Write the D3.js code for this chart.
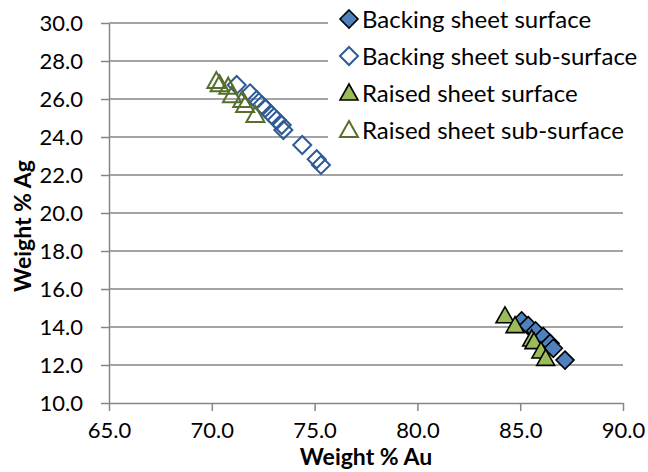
<!DOCTYPE html>
<html>
<head>
<meta charset="utf-8">
<script src="https://cdn.jsdelivr.net/npm/d3@7"></script>
<style>
  body { margin: 0; background: #fff; }
  text { font-family: Lato, "Open Sans", sans-serif; fill: #000; }
</style>
</head>
<body>
<div id="chart"></div>
<script>
/* DATA */
const xTicks = [65, 70, 75, 80, 85, 90];
const yTicks = [10, 12, 14, 16, 18, 20, 22, 24, 26, 28, 30];

// [Au, Ag] weight %
const backingSurface = [
  [85.07, 14.32], [85.39, 14.07], [85.75, 13.79], [86.12, 13.49],
  [86.45, 13.14], [86.61, 12.88], [87.18, 12.26]
];
const backingSubSurface = [
  [71.21, 26.74], [71.86, 26.30], [72.18, 25.95], [72.43, 25.68],
  [72.59, 25.51], [72.91, 25.16], [73.16, 24.89], [73.40, 24.63],
  [73.48, 24.37], [74.40, 23.58], [75.10, 22.83], [75.31, 22.53]
];
const raisedSurface = [
  [84.26, 14.59], [84.75, 14.07], [85.56, 13.37], [85.67, 13.23],
  [86.01, 12.74], [86.24, 12.35]
];
const raisedSubSurface = [
  [70.22, 26.95], [70.38, 26.78], [70.80, 26.65], [70.98, 26.20],
  [71.48, 25.95], [71.62, 25.68], [72.12, 25.16]
];

const seriesNames = [
  "Backing sheet surface",
  "Backing sheet sub-surface",
  "Raised sheet surface",
  "Raised sheet sub-surface"
];

/* CONSTANTS */
const width = 648,
  height = 472,
  margin = { top: 23, bottom: 69, left: 109, right: 25 };

const gridColor = "#868686";

const series = [
  { name: seriesNames[0], data: backingSurface, shape: "diamond", fill: "#4F81BD", stroke: "#000" },
  { name: seriesNames[1], data: backingSubSurface, shape: "diamond", fill: "none", stroke: "#2E5B97" },
  { name: seriesNames[2], data: raisedSurface, shape: "triangle", fill: "#9BBB59", stroke: "#000" },
  { name: seriesNames[3], data: raisedSubSurface, shape: "triangle", fill: "none", stroke: "#566F2C" }
];

function markerPath(shape) {
  if (shape === "diamond") return "M0,-9L9,0L0,9L-9,0Z";
  return "M0,-9L9,7L-9,7Z";
}

/* SCALES */
const xScale = d3.scaleLinear()
  .domain([65, 90])
  .range([margin.left, width - margin.right]);

const yScale = d3.scaleLinear()
  .domain([10, 30])
  .range([height - margin.bottom, margin.top]);

const svg = d3.select("#chart")
  .append("svg")
  .attr("width", width)
  .attr("height", height);

// gridlines
svg.append("g")
  .selectAll("line")
  .data(yTicks.filter(d => d > 10))
  .join("line")
  .attr("x1", margin.left)
  .attr("x2", width - margin.right)
  .attr("y1", d => yScale(d))
  .attr("y2", d => yScale(d))
  .attr("stroke", gridColor)
  .attr("stroke-width", 1.5);

// axes
const xAxis = d3.axisBottom(xScale)
  .tickValues(xTicks)
  .tickSize(8)
  .tickSizeOuter(0)
  .tickFormat(d3.format(".1f"));

const yAxis = d3.axisLeft(yScale)
  .tickValues(yTicks)
  .tickSize(8)
  .tickSizeOuter(0)
  .tickFormat(d3.format(".1f"));

const gx = svg.append("g")
  .attr("transform", `translate(0, ${height - margin.bottom})`)
  .call(xAxis);

const gy = svg.append("g")
  .attr("transform", `translate(${margin.left}, 0)`)
  .call(yAxis);

[gx, gy].forEach(g => {
  g.select(".domain").attr("stroke", gridColor).attr("stroke-width", 1.5);
  g.selectAll(".tick line").attr("stroke", gridColor).attr("stroke-width", 1.5);
  g.selectAll(".tick text")
    .attr("fill", "#000")
    .style("font-family", "Lato, sans-serif")
    .style("font-size", "22px");
});
gx.selectAll(".tick text").attr("y", 19);
gy.selectAll(".tick text").attr("x", -26).attr("dy", "0.36em");

// axis titles
svg.append("text")
  .attr("x", (margin.left + width - margin.right) / 2)
  .attr("y", 465)
  .attr("text-anchor", "middle")
  .style("font-size", "23px")
  .style("font-weight", "bold")
  .text("Weight % Au");

svg.append("text")
  .attr("transform", `translate(31, 226) rotate(-90)`)
  .attr("text-anchor", "middle")
  .style("font-size", "23px")
  .style("font-weight", "bold")
  .text("Weight % Ag");

// points
series.forEach(s => {
  svg.append("g")
    .selectAll("path")
    .data(s.data)
    .join("path")
    .attr("d", markerPath(s.shape))
    .attr("transform", d => `translate(${xScale(d[0])}, ${yScale(d[1])})`)
    .attr("fill", s.fill)
    .attr("stroke", s.stroke)
    .attr("stroke-width", s.fill === "none" ? 2 : 1.6)
    .attr("stroke-linejoin", "miter");
});

// legend
const legend = svg.append("g");
legend.append("rect")
  .attr("x", 328)
  .attr("y", 0)
  .attr("width", width - 328)
  .attr("height", 150)
  .attr("fill", "#fff");

const rows = legend.selectAll("g.row")
  .data(series)
  .join("g")
  .attr("class", "row")
  .attr("transform", (d, i) => `translate(349, ${19 + i * 37})`);

rows.append("path")
  .attr("d", d => markerPath(d.shape))
  .attr("fill", d => d.fill)
  .attr("stroke", d => d.stroke)
  .attr("stroke-width", d => d.fill === "none" ? 2 : 1.6);

rows.append("text")
  .attr("x", 13)
  .attr("dy", "0.36em")
  .style("font-size", "24px")
  .text(d => d.name);
</script>
</body>
</html>
